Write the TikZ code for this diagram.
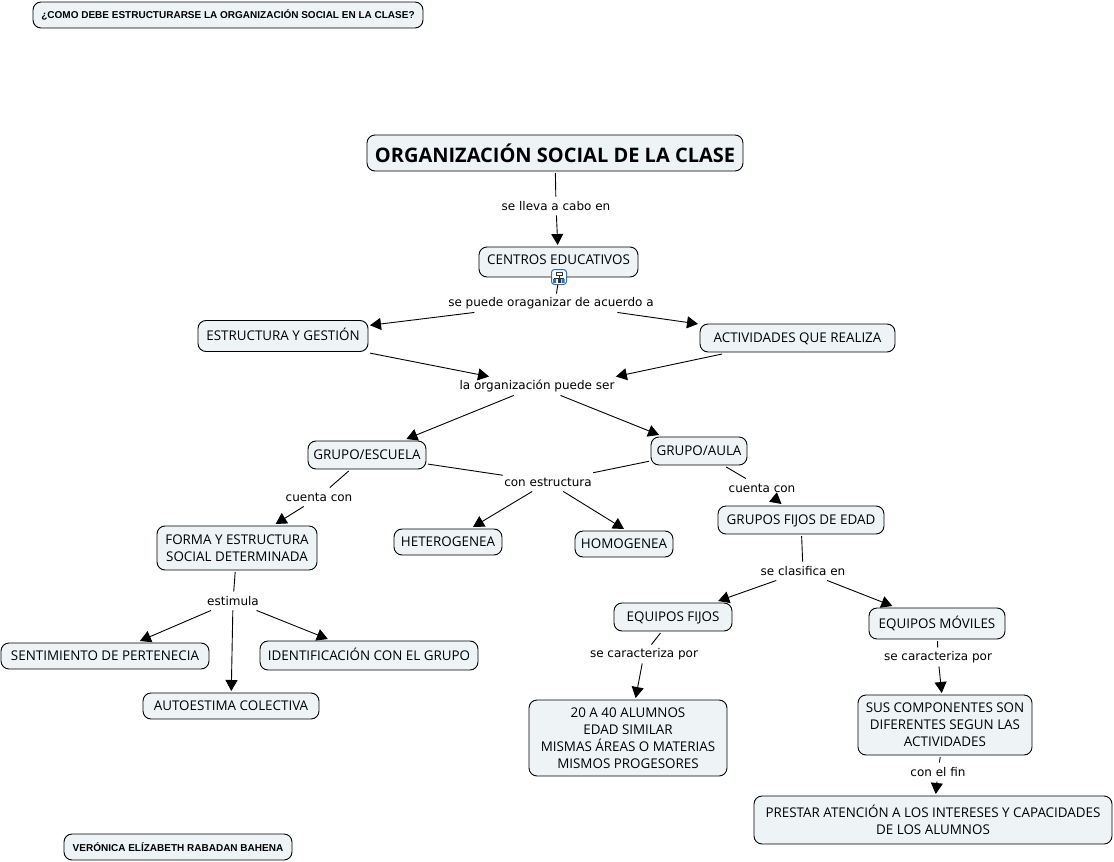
\documentclass[tikz,border=0pt]{standalone}
\usepackage{fontspec}
\setmainfont{DejaVu Sans}
\newfontfamily\boxfont{Open Sans}
\newfontfamily\headfont{Liberation Sans}
\usetikzlibrary{arrows.meta}
\definecolor{boxfill}{HTML}{EEF4F6}
\definecolor{iconblue}{HTML}{2F6FC4}

\begin{document}
\begin{tikzpicture}[
        x = 1pt, y = -1pt,
        line width = 0.9pt,
        > = {Triangle[length=11pt, width=12pt]},
        concept/.style = {%
            draw, fill = boxfill, rounded corners = 8pt,
            inner sep = 0pt, outer sep = 2pt, align = center,
            font = \boxfont\fontsize{13.4}{17}\selectfont
        },
        single/.style = {%
            concept, text height = 9.6pt, text depth = 0pt
        },
        head/.style = {%
            concept, font = \headfont\bfseries\fontsize{10}{12}\selectfont
        },
        link/.style = {%
            inner sep = 1pt, minimum height = 18pt,
            font = \fontsize{12}{14}\selectfont
        },
        size/.style 2 args = {minimum width = #1pt, minimum height = #2pt}
    ]

        \useasboundingbox (0, 0) rectangle (1114, 862);

        % Headings.
        \node[head, size={390}{26}] (question) at (228, 15) {¿COMO DEBE ESTRUCTURARSE LA ORGANIZACIÓN SOCIAL EN LA CLASE?};
        \node[head, size={228}{26}] (author) at (178, 847) {VERÓNICA ELÍZABETH RABADAN BAHENA};

        % Concepts.
        \node[concept, size={376}{36}, font = \boxfont\bfseries\fontsize{20}{24}\selectfont] (title) at (555, 153) {ORGANIZACIÓN SOCIAL DE LA CLASE};
        \node[single, size={159}{30}, text depth = 4pt] (centros) at (558.5, 262) {CENTROS EDUCATIVOS};
        \node[single, size={170}{31}] (estructura) at (283, 336) {ESTRUCTURA Y GESTIÓN};
        \node[single, size={195}{28}] (actividades) at (797.5, 338) {ACTIVIDADES QUE REALIZA};
        \node[single, size={118}{28}] (escuela) at (367, 455) {GRUPO/ESCUELA};
        \node[single, size={96}{28}] (aula) at (699, 451) {GRUPO/AULA};
        \node[concept, size={160}{44}] (forma) at (237, 548) {FORMA Y ESTRUCTURA\\SOCIAL DETERMINADA};
        \node[single, size={108}{26}] (hetero) at (448, 542) {HETEROGENEA};
        \node[single, size={98}{26}] (homo) at (624, 544) {HOMOGENEA};
        \node[single, size={166}{28}] (fijosedad) at (801, 520) {GRUPOS FIJOS DE EDAD};
        \node[single, size={118}{28}] (fijos) at (673, 617) {EQUIPOS FIJOS};
        \node[single, size={136}{31}] (moviles) at (937, 623.5) {EQUIPOS MÓVILES};
        \node[single, size={208}{26}] (sentimiento) at (105, 656) {SENTIMIENTO DE PERTENECIA};
        \node[single, size={218}{29}] (identidad) at (369, 655.5) {IDENTIFICACIÓN CON EL GRUPO};
        \node[single, size={176}{26}] (autoestima) at (231, 706) {AUTOESTIMA COLECTIVA};
        \node[concept, size={198}{76}] (alumnos) at (628, 738) {20 A 40 ALUMNOS\\EDAD SIMILAR\\MISMAS ÁREAS O MATERIAS\\MISMOS PROGESORES};
        \node[concept, size={174}{60}] (componentes) at (945, 725) {SUS COMPONENTES SON\\DIFERENTES SEGUN LAS\\ACTIVIDADES};
        \node[concept, size={358}{48}] (prestar) at (933, 820) {PRESTAR ATENCIÓN A LOS INTERESES Y CAPACIDADES\\DE LOS ALUMNOS};

        % Submap icon on the lower edge of the box.
        \node[draw = iconblue, fill = white, rounded corners = 3pt, minimum size = 15pt, inner sep = 0pt, line width = 1pt] (icon) at (559, 277) {};
        \draw[black!80, line width = 0.8pt] (556, 272) rectangle (562, 275);
        \draw[black!80, line width = 0.8pt] (559, 275) -- (559, 281) (554, 278) -- (564, 278);
        \fill[iconblue] (553, 279) rectangle (556, 283) (561.5, 279) rectangle (564.5, 283);
        \fill[black!80] (557.5, 279) rectangle (560.5, 283);

        % Linking phrases.
        \node[link] (lleva) at (556, 206) {se lleva a cabo en};
        \node[link] (oraganizar) at (551, 303) {se puede oraganizar de acuerdo a};
        \node[link] (puedeser) at (537, 386) {la organización puede ser};
        \node[link] (conestructura) at (548, 482) {con estructura};
        \node[link] (cuentaesc) at (319, 497) {cuenta con};
        \node[link] (cuentaaula) at (762, 488) {cuenta con};
        \node[link] (estimula) at (233, 601) {estimula};
        \node[link] (clasifica) at (803, 571) {se clasifica en};
        \node[link] (caractfijos) at (644, 654) {se caracteriza por};
        \node[link] (caractmov) at (938, 657) {se caracteriza por};
        \node[link] (confin) at (938, 772) {con el fin};

        % Lines into the linking phrases.
        \foreach \a/\b in {title/lleva, icon/oraganizar.60,
                escuela/conestructura, aula/conestructura, escuela/cuentaesc,
                aula/cuentaaula, forma/estimula, fijosedad/clasifica, fijos/caractfijos,
                moviles/caractmov, componentes/confin}{%
            \draw (\a) -- (\b);
        }

        % Arrows out of the linking phrases.
        \foreach \a/\b in {lleva/centros, oraganizar/estructura, oraganizar/actividades,
                estructura/puedeser, actividades/puedeser.north east,
                puedeser/escuela, puedeser/aula,
                conestructura/hetero, conestructura/homo.north, cuentaesc/forma,
                cuentaaula/fijosedad, estimula/sentimiento, estimula/autoestima,
                estimula/identidad, clasifica/fijos, clasifica/moviles,
                caractfijos/alumnos, caractmov/componentes, confin/prestar}{%
            \draw[->] (\a) -- (\b);
        }
    \end{tikzpicture}
\end{document}
